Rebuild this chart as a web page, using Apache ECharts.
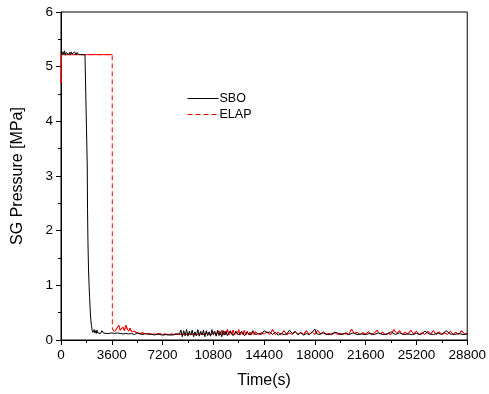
<!DOCTYPE html>
<html>
<head>
<meta charset="utf-8">
<script src="https://cdn.jsdelivr.net/npm/echarts@6/dist/echarts.min.js"></script>
<style>html,body{margin:0;padding:0;background:#fff;}#c{width:489px;height:394px;}</style>
</head>
<body>
<div id="c"></div>
<script>
var xTicks = [0, 3600, 7200, 10800, 14400, 18000, 21600, 25200, 28800];
var yTicks = [0, 1, 2, 3, 4, 5, 6];

var sboT = [0,60,120,180,240,300,360,420,480,540,600,660,720,780,840,900,960,1020,1080,1140,1200,1260,1320,1400,1500,1600,1700,1840,1860,1880,1910,1950,1990,2030,2070,2110,2160,2210,2260,2310,2350,2400,2450,2500,2550,2600,2700,2800,2900,3000,3100,3200,3300,3400,3600,3800,4000,4200,4400,4600,4800,5000,5200,5400,5600,5800,6000,6200,6400,6600,6800,7000,7200,7500,7800,8100,8400,8500,8600,8700,8800,8900,9000,9100,9200,9300,9400,9500,9600,9700,9800,9900,10000,10100,10200,10300,10400,10500,10600,10700,10800,10900,11000,11100,11200,11300,11400,11500,11600,11700,11800,12000,12200,12400,12600,12800,13000,13200,13400,13600,13800,14000,14200,14400,14600,14800,15000,15200,15400,15600,15800,16000,16200,16400,16600,16800,17000,17200,17400,17600,17800,18000,18100,18300,18600,18900,19200,19500,19800,20100,20400,20700,21000,21300,21600,21900,22200,22500,22800,23100,23400,23700,24000,24300,24600,24900,25200,25500,25800,26100,26400,26700,27000,27300,27600,27900,28200,28500,28800];
var sboP = [5.28,5.22,5.27,5.23,5.29,5.21,5.26,5.24,5.28,5.22,5.26,5.21,5.27,5.23,5.25,5.22,5.27,5.24,5.22,5.26,5.23,5.22,5.24,5.22,5.22,5.22,5.22,5.22,3.2,2.4,1.8,1.3,1.0,0.78,0.55,0.38,0.26,0.18,0.14,0.12,0.19,0.13,0.17,0.12,0.18,0.13,0.16,0.12,0.17,0.13,0.15,0.12,0.14,0.12,0.13,0.12,0.13,0.12,0.11,0.12,0.11,0.12,0.1,0.13,0.11,0.1,0.12,0.1,0.11,0.09,0.11,0.1,0.09,0.1,0.09,0.1,0.11,0.18,0.06,0.17,0.08,0.19,0.07,0.16,0.09,0.18,0.06,0.15,0.08,0.19,0.07,0.16,0.09,0.18,0.06,0.17,0.08,0.15,0.07,0.19,0.09,0.16,0.07,0.18,0.08,0.15,0.06,0.17,0.09,0.16,0.08,0.17,0.08,0.15,0.09,0.16,0.08,0.14,0.09,0.16,0.1,0.12,0.1,0.17,0.13,0.15,0.1,0.14,0.09,0.12,0.1,0.11,0.18,0.12,0.15,0.1,0.13,0.09,0.12,0.1,0.14,0.2,0.12,0.1,0.13,0.1,0.11,0.14,0.1,0.12,0.1,0.13,0.1,0.11,0.1,0.12,0.1,0.13,0.1,0.11,0.15,0.1,0.13,0.1,0.11,0.1,0.12,0.1,0.16,0.11,0.1,0.13,0.1,0.17,0.11,0.1,0.12,0.1,0.11];

var elapT = [0,15,200,600,1000,1400,1800,2200,2600,3000,3400,3630,3640,3700,3800,3900,4000,4100,4200,4300,4400,4500,4600,4700,4800,4900,5000,5100,5200,5400,5600,5800,6000,6200,6400,6600,6800,7000,7200,7400,7600,7800,8000,8200,8400,8600,8800,9000,9200,9400,9600,9800,10000,10200,10400,10600,10800,11000,11200,11300,11400,11500,11600,11700,11800,11900,12000,12100,12200,12300,12400,12500,12600,12700,12800,12900,13000,13100,13200,13300,13400,13500,13600,13700,13800,14000,14200,14400,14600,14800,15000,15200,15400,15600,15800,16000,16200,16400,16600,16800,17000,17200,17400,17600,17800,18000,18200,18400,18600,18800,19000,19200,19400,19600,19800,20000,20200,20400,20600,20800,21000,21200,21400,21600,21800,22000,22200,22400,22600,22800,23000,23200,23400,23600,23800,24000,24200,24400,24600,24800,25000,25200,25400,25600,25800,26000,26200,26400,26600,26800,27000,27200,27400,27600,27800,28000,28200,28400,28600,28800];
var elapP = [4.7,5.22,5.22,5.22,5.22,5.22,5.22,5.22,5.22,5.22,5.22,5.22,0.2,0.17,0.15,0.19,0.16,0.27,0.18,0.16,0.24,0.17,0.27,0.2,0.16,0.22,0.15,0.14,0.16,0.13,0.12,0.13,0.11,0.12,0.1,0.11,0.1,0.12,0.1,0.11,0.09,0.11,0.1,0.12,0.1,0.11,0.09,0.12,0.1,0.11,0.09,0.12,0.1,0.11,0.13,0.09,0.14,0.1,0.17,0.1,0.18,0.09,0.16,0.1,0.19,0.09,0.15,0.1,0.18,0.09,0.16,0.1,0.19,0.09,0.15,0.1,0.18,0.09,0.16,0.1,0.14,0.09,0.17,0.1,0.15,0.1,0.13,0.11,0.15,0.1,0.19,0.1,0.14,0.1,0.17,0.1,0.13,0.1,0.16,0.1,0.14,0.1,0.17,0.1,0.15,0.1,0.18,0.11,0.15,0.1,0.12,0.1,0.14,0.1,0.12,0.1,0.13,0.1,0.2,0.12,0.14,0.1,0.13,0.11,0.15,0.1,0.12,0.18,0.11,0.14,0.1,0.12,0.1,0.19,0.12,0.17,0.1,0.14,0.11,0.18,0.11,0.16,0.1,0.13,0.1,0.16,0.11,0.17,0.1,0.15,0.11,0.13,0.1,0.16,0.11,0.14,0.1,0.17,0.11,0.12];

function pairs(t, p) { var o = []; for (var i = 0; i < t.length; i++) o.push([t[i], p[i]]); return o; }
var sboData = pairs(sboT, sboP);
var elapData = pairs(elapT, elapP);
// solid overlay: same points, broken at the sudden drop so the drop stays dashed
var elapSolid = [];
for (var i = 0; i < elapData.length; i++) {
  elapSolid.push(elapData[i]);
  if (i + 1 < elapData.length && elapData[i][1] - elapData[i + 1][1] > 3) elapSolid.push([elapData[i][0], '-']);
}

var font = '"Liberation Sans", Arial, sans-serif';
var hidden = {color: 'rgba(0,0,0,0)', borderColor: 'rgba(0,0,0,0)', borderWidth: 0};
function legendFor(name, top, color, type) {
  return {
    orient: 'vertical', left: 187, top: top, padding: 0, itemWidth: 31, itemHeight: 10,
    data: [name], itemStyle: hidden,
    lineStyle: {color: color, width: 1, type: type, opacity: 1},
    textStyle: {fontFamily: font, fontSize: 12.5, color: '#000', padding: [0, 0, 0, -4]}
  };
}
var chart = echarts.init(document.getElementById('c'), null, {renderer: 'canvas'});
chart.setOption({
  animation: false,
  backgroundColor: '#fff',
  grid: {left: 61, right: 21, top: 12, bottom: 54, show: true, borderColor: '#000', borderWidth: 1, backgroundColor: 'transparent'},
  legend: [legendFor('SBO', 92, '#000000', 'solid'), legendFor('ELAP', 108, '#ff0000', [5, 3])],
  xAxis: {
    type: 'value', min: xTicks[0], max: xTicks[xTicks.length - 1], interval: 3600,
    name: 'Time(s)', nameLocation: 'middle', nameGap: 33,
    nameTextStyle: {fontFamily: font, fontSize: 16, color: '#000'},
    axisLine: {show: true, lineStyle: {color: '#000', width: 1}},
    axisTick: {show: true, inside: false, length: 5, lineStyle: {color: '#000'}},
    minorTick: {show: true, splitNumber: 2, length: 3, lineStyle: {color: '#000'}},
    splitLine: {show: false},
    axisLabel: {fontFamily: font, fontSize: 13.5, color: '#000', margin: 8,
      formatter: function (v) { return String(v); }}
  },
  yAxis: {
    type: 'value', min: yTicks[0], max: yTicks[yTicks.length - 1], interval: 1,
    name: 'SG Pressure [MPa]', nameLocation: 'middle', nameGap: 35,
    nameTextStyle: {fontFamily: font, fontSize: 16, color: '#000'},
    axisLine: {show: true, lineStyle: {color: '#000', width: 1}},
    axisTick: {show: true, inside: false, length: 5, lineStyle: {color: '#000'}},
    minorTick: {show: true, splitNumber: 2, length: 3, lineStyle: {color: '#000'}},
    splitLine: {show: false},
    axisLabel: {fontFamily: font, fontSize: 13.5, color: '#000', margin: 8,
      formatter: function (v) { return String(v); }}
  },
  series: [
    {name: 'SBO', type: 'line', data: sboData, showSymbol: false, symbol: 'none',
     lineStyle: {color: '#000', width: 1}, itemStyle: {color: '#000'}, z: 3},
    {name: 'ELAP', type: 'line', data: elapData, showSymbol: false, symbol: 'none',
     lineStyle: {color: '#ff0000', width: 1, type: [5, 3]}, itemStyle: {color: '#ff0000'}, z: 2},
    {name: 'ELAP', type: 'line', data: elapSolid, showSymbol: false, symbol: 'none', connectNulls: false,
     lineStyle: {color: '#ff0000', width: 1}, itemStyle: {color: '#ff0000'}, z: 2}
  ]
});
</script>
</body>
</html>
